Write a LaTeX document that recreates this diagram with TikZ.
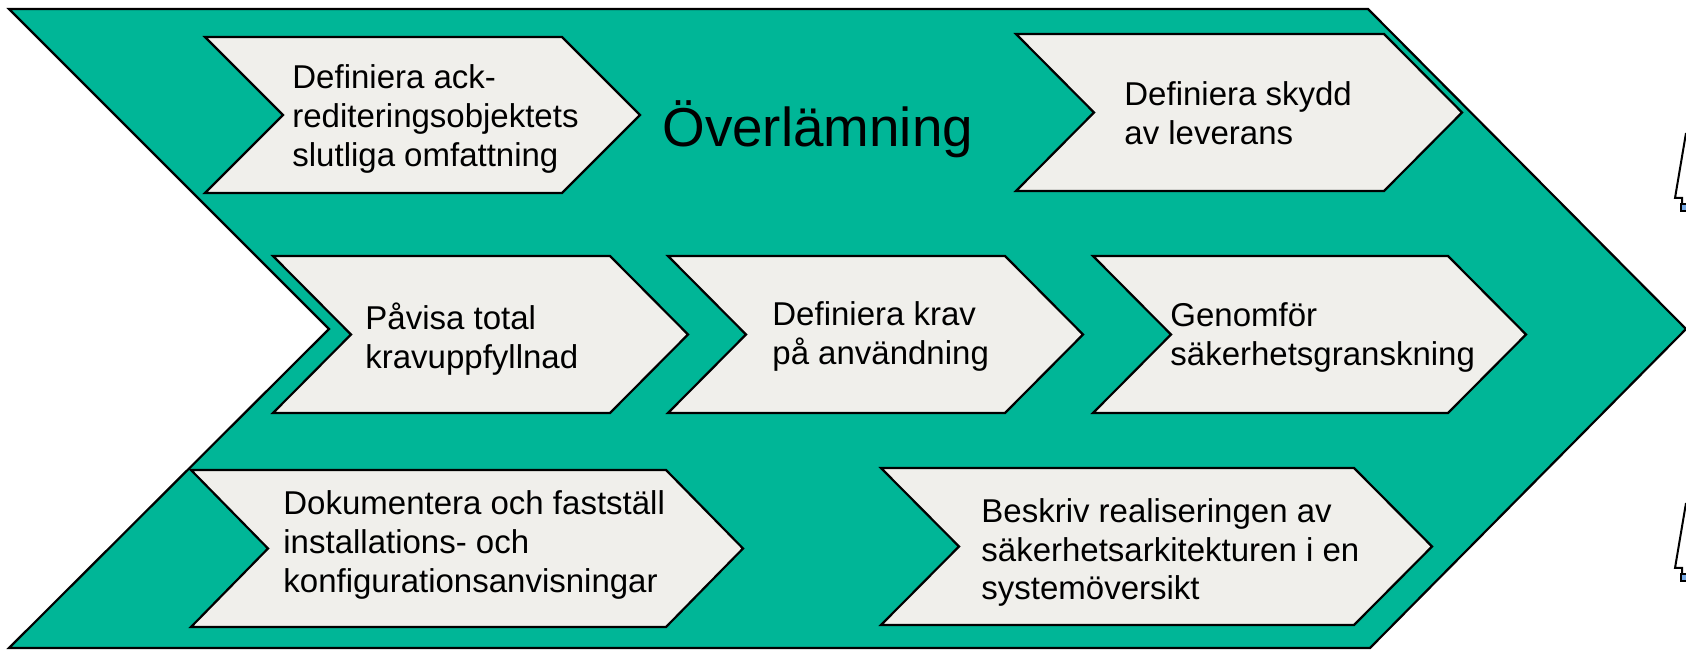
\documentclass[tikz,border=0pt]{standalone}
\usepackage{fontspec}
\setmainfont{Liberation Sans}
\definecolor{flowgreen}{RGB}{0,182,151}
\definecolor{stepfill}{RGB}{240,239,235}
\definecolor{clipblue}{RGB}{120,170,230}
% chevron step: left x, right x, top y, bottom y, point depth
\newcommand\stepchevron[5]{%
  \path[stepbox] (#1,#3) -- (#2,#3) -- ({#2+#5},{(#3+#4)/2}) -- (#2,#4)
    -- (#1,#4) -- ({#1+#5},{(#3+#4)/2}) -- cycle;}
\begin{document}
\begin{tikzpicture}[x=0.5pt,y=-0.5pt,line join=miter,
  outline/.style={draw=black,line width=1.1pt},
  stepbox/.style={outline,fill=stepfill},
  % labels are placed at the baseline of their last line
  steptext/.style={anchor=base west,inner sep=0pt,align=left,
    font=\fontsize{16.5}{19.5}\selectfont},
  bigtext/.style={anchor=base west,inner sep=0pt,
    font=\fontsize{27.4}{33}\selectfont}]
\useasboundingbox (0,0) rectangle (1686,651);

% large process arrow
\path[outline,fill=flowgreen] (9,9) -- (1368,9) -- (1686,329) -- (1370,648)
  -- (9,648) -- (329,329) -- cycle;

% steps
\stepchevron{205}{562}{37}{193}{78}
\stepchevron{1016}{1384}{34}{191}{78}
\stepchevron{273}{610}{256}{413}{78}
\stepchevron{668}{1005}{256}{413}{78}
\stepchevron{1093}{1448}{256}{413}{78}
\stepchevron{191}{666}{470}{627}{77}
\stepchevron{881}{1354}{468}{625}{78}

% labels
\node[steptext] (scope) at (292,167) {Definiera ack-\\rediteringsobjektets\\slutliga omfattning};
\node[bigtext] (title) at (662,147) {Överlämning};
\node[steptext] (protect) at (1124,145) {Definiera skydd\\av leverans};
\node[steptext] (prove) at (365,369) {Påvisa total\\kravuppfyllnad};
\node[steptext] (usage) at (772,365) {Definiera krav\\på användning};
\node[steptext] (review) at (1170,366) {Genomför\\säkerhetsgranskning};
\node[steptext] (install) at (283,592) {Dokumentera och fastställ\\installations- och\\konfigurationsanvisningar};
\node[steptext] (arch) at (981,600) {Beskriv realiseringen av\\säkerhetsarkitekturen i en\\systemöversikt};

% figures cut off at the right edge
\foreach \dy in {0,370}{
  \draw[line width=1pt] (1686,133+\dy) -- (1675,198+\dy) -- (1682,198+\dy) -- (1682,203+\dy);
  \filldraw[fill=clipblue,draw=black,line width=1pt] (1681,204+\dy) rectangle (1687,211+\dy);
}
\end{tikzpicture}
\end{document}
